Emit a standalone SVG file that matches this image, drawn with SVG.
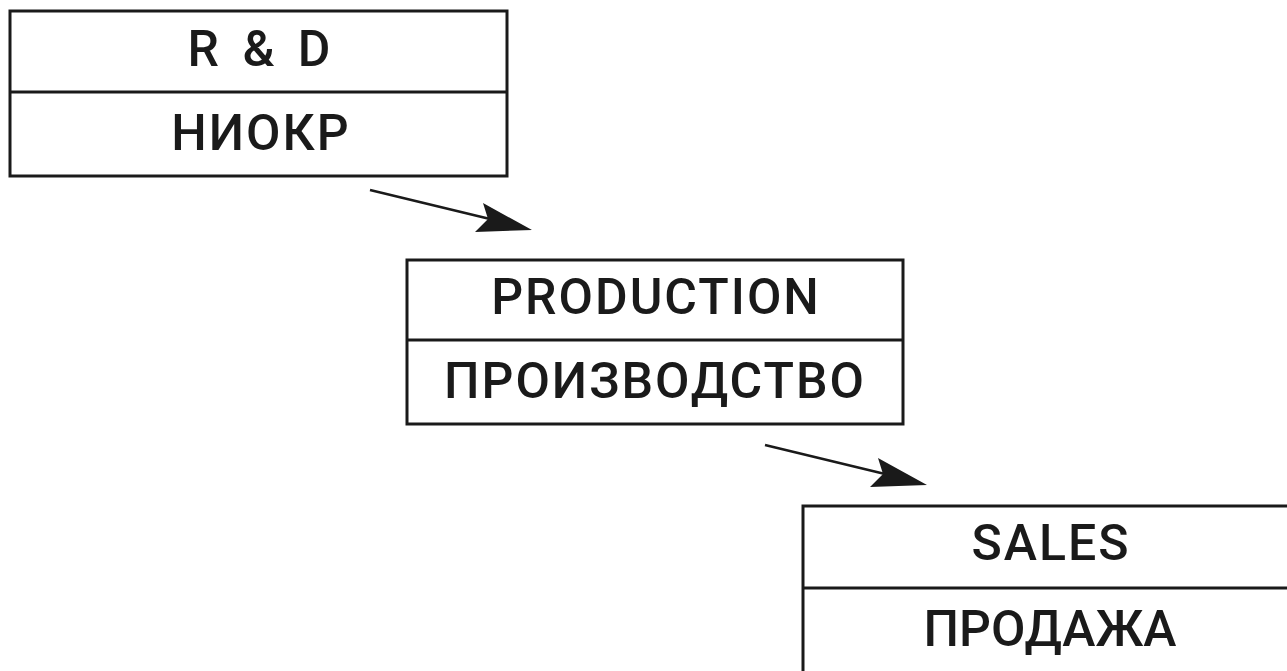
<svg xmlns="http://www.w3.org/2000/svg" width="1287" height="671" viewBox="0 0 1287 671">
<style>
.box{fill:#fff;stroke:#1a1a1a;stroke-width:3}
.div{stroke:#1a1a1a;stroke-width:3}
.lbl{font-family:Roboto,"Liberation Sans",Arial,sans-serif;font-weight:500;font-size:50px;letter-spacing:2px;fill:#1a1a1a;text-anchor:middle}
.conn{stroke:#1a1a1a;stroke-width:2.5;fill:none}
.head{fill:#1a1a1a}
</style>
<defs>
<g id="arrow">
<line class="conn" x1="370" y1="190" x2="490" y2="219"/>
<polygon class="head" points="532,230 483,203 488,219 475,232"/>
</g>
</defs>
<rect width="1287" height="671" fill="#fff"/>
<g id="connectors">
<use href="#arrow"/>
<use href="#arrow" transform="translate(395,255)"/>
</g>
<g id="rnd">
<rect class="box" x="10" y="11" width="497" height="165"/>
<line class="div" x1="10" y1="92" x2="507" y2="92"/>
<text class="lbl" x="260" y="66" word-spacing="7">R &amp; D</text>
<text class="lbl" x="261" y="150">НИОКР</text>
</g>
<g id="production">
<rect class="box" x="407" y="260" width="496" height="164"/>
<line class="div" x1="407" y1="340" x2="903" y2="340"/>
<text class="lbl" x="656" y="314">PRODUCTION</text>
<text class="lbl" x="655" y="398">ПРОИЗВОДСТВО</text>
</g>
<g id="sales">
<rect class="box" x="803" y="506" width="500" height="175"/>
<line class="div" x1="803" y1="588" x2="1303" y2="588"/>
<text class="lbl" x="1051" y="560">SALES</text>
<text class="lbl" x="1050" y="646" style="letter-spacing:0">ПРОДАЖА</text>
</g>
</svg>
